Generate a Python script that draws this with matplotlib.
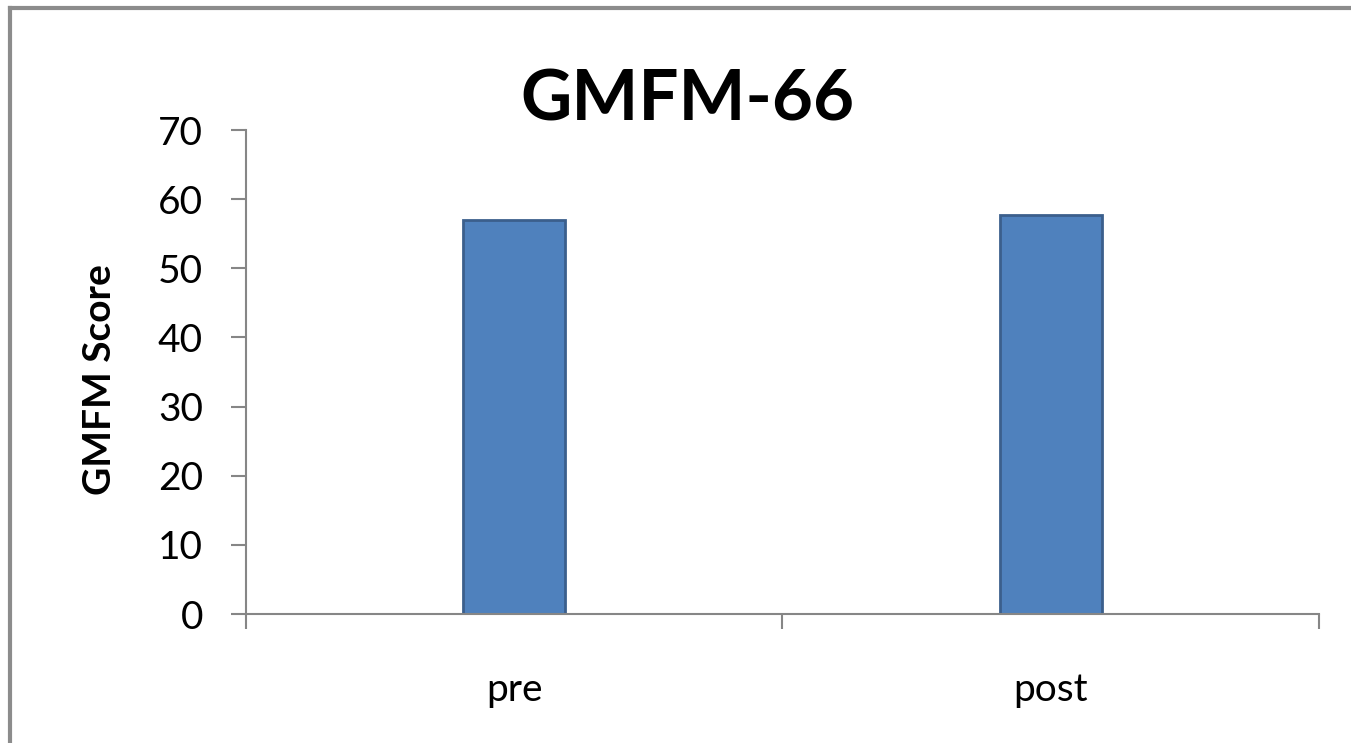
import matplotlib
matplotlib.use("Agg")
import matplotlib.pyplot as plt
from matplotlib.lines import Line2D

# data
categories = ["pre", "post"]
scores = [57.0, 57.7]
y_ticks = [0, 10, 20, 30, 40, 50, 60, 70]

plt.rcParams['font.family'] = ['Lato', 'DejaVu Sans']

fig = plt.figure(figsize=(13.51, 7.43), dpi=100)
ax = fig.add_axes([0.1821, 0.1736, 0.7942, 0.6514])

positions = list(range(len(categories)))
ax.bar(positions, scores, width=0.19, color='#4f81bd',
       edgecolor='#3b5f8c', linewidth=2)

ax.set_xlim(-0.5, len(categories) - 0.5)
ax.set_ylim(0, 70)
ax.set_yticks(y_ticks)
ax.tick_params(axis='y', labelsize=28, length=11, width=1.5,
               color='#868686', pad=20, direction='out')

# labels at category centres, ticks at the boundaries
ax.set_xticks(positions)
ax.set_xticklabels(categories)
ax.set_xticks([p - 0.5 for p in positions] + [positions[-1] + 0.5], minor=True)
ax.tick_params(axis='x', which='major', length=0, labelsize=28, pad=42)
ax.tick_params(axis='x', which='minor', length=11, width=1.5,
               color='#868686', direction='out')

for side in ['top', 'right']:
    ax.spines[side].set_visible(False)
for side in ['left', 'bottom']:
    ax.spines[side].set_color('#868686')
    ax.spines[side].set_linewidth(1.5)

fig.text(0.509, 0.866, 'GMFM-66', ha='center', va='center',
         fontsize=51, fontweight='bold')
fig.text(0.074, 0.489, 'GMFM Score', ha='center', va='center',
         rotation=90, fontsize=28, fontweight='bold')

# outer chart frame
fig.add_artist(Line2D([0.0075, 1.0], [0.9895, 0.9895], color='#8c8c8c',
                      linewidth=3, transform=fig.transFigure))
fig.add_artist(Line2D([0.0075, 0.0075], [0.0, 0.9895], color='#8c8c8c',
                      linewidth=3, transform=fig.transFigure))

fig.savefig('out.png', dpi=100)
